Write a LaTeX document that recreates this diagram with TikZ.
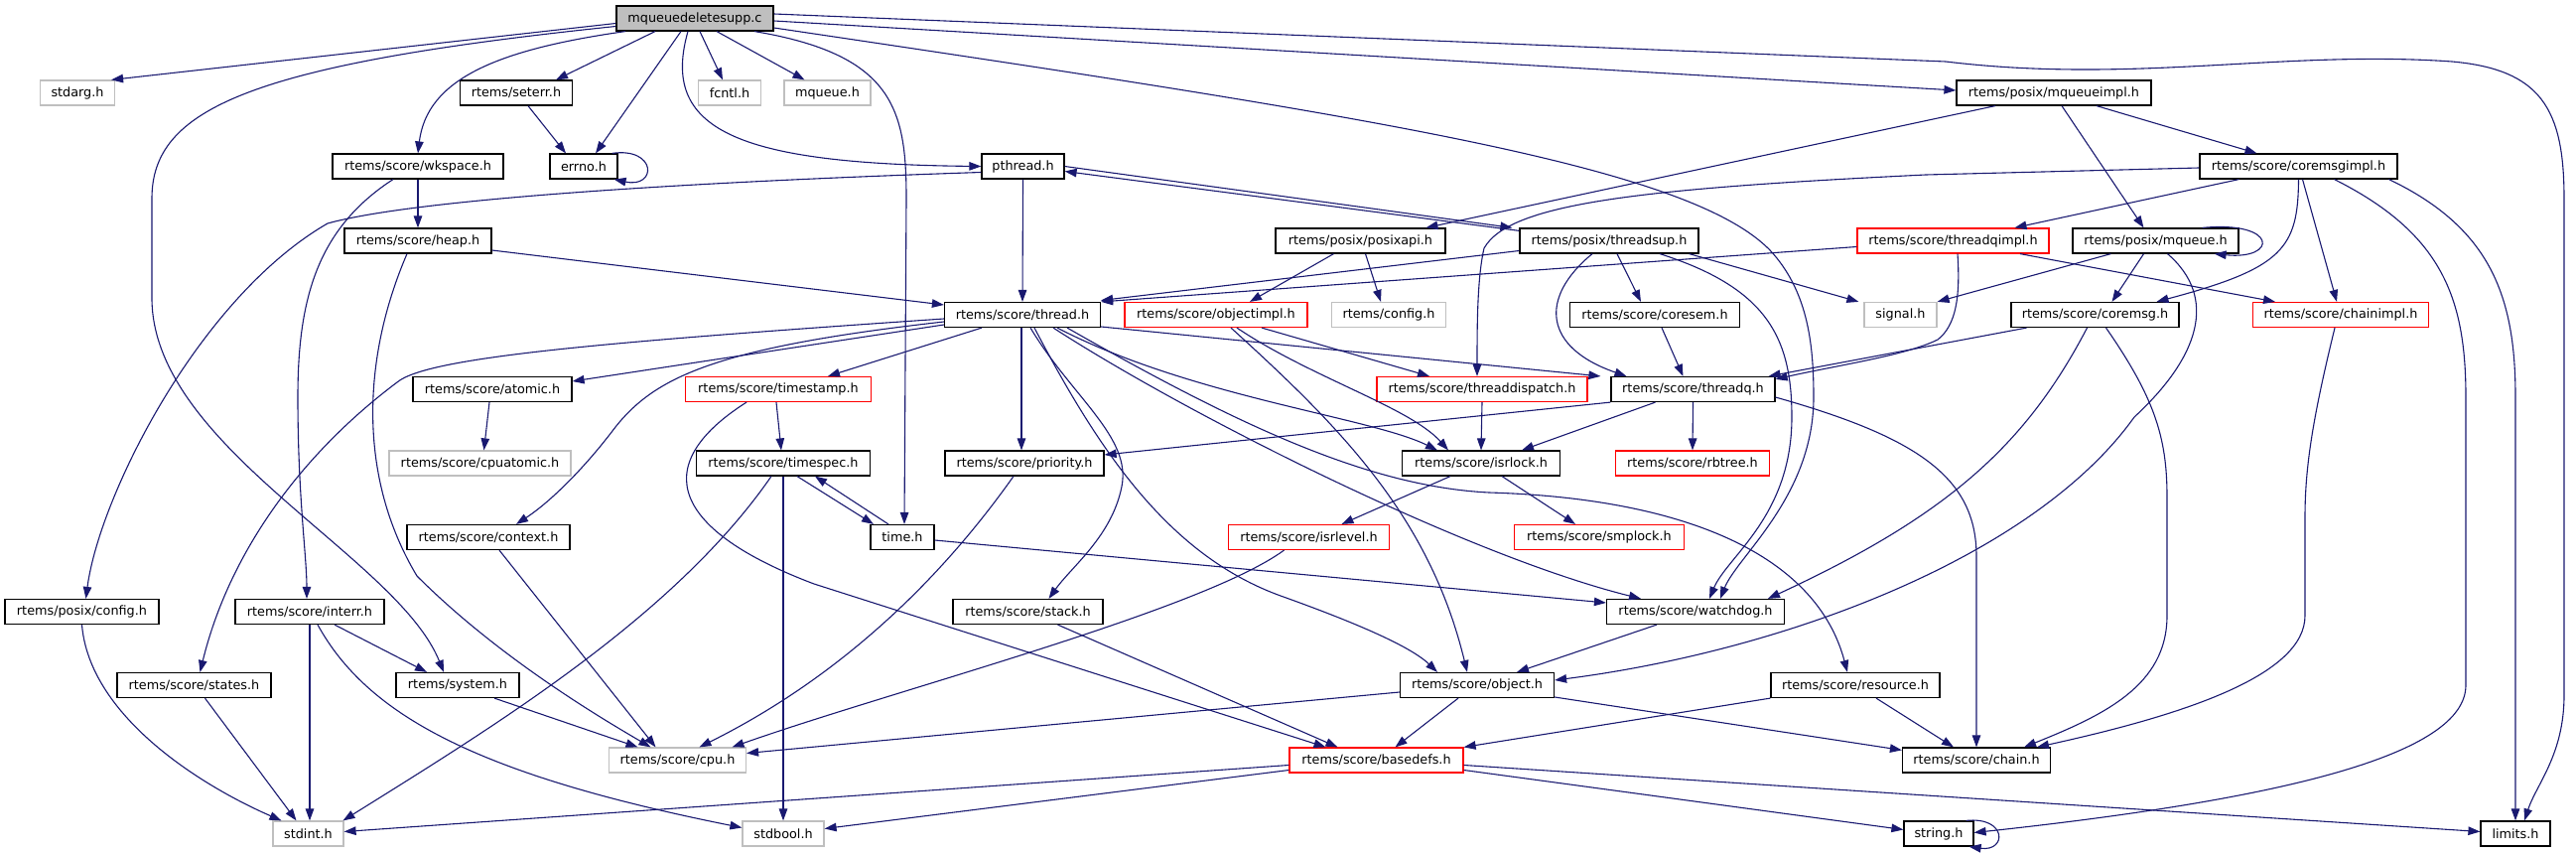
\documentclass[tikz,border=0pt]{standalone}
\usepackage{fontspec}
\setmainfont{DejaVu Sans}
\usetikzlibrary{arrows.meta}
\definecolor{edgecol}{HTML}{191970}
\definecolor{grayb}{HTML}{BFBFBF}
\definecolor{redb}{HTML}{FF0000}
\newcommand{\nfont}{\fontsize{12.8}{15}\selectfont}
\begin{document}
\begin{tikzpicture}[x=1pt,y=-1pt,
  box/.style={draw=black, line width=1.2pt, fill=white, minimum height=25pt, inner xsep=1pt, inner ysep=0pt, font=\nfont},
  rbox/.style={box, draw=redb},
  gbox/.style={box, draw=grayb},
  rootbox/.style={box, fill=grayb},
  dep/.style={draw=edgecol, line width=1.1pt, -{Triangle[length=12pt,width=8.5pt]}}]
\useasboundingbox (0,0) rectangle (2595,859);
% ---------- nodes ----------
\node[rootbox, minimum width=158pt] (root) at (700,18.5) {mqueuedeletesupp.c};
\node[gbox, minimum width=75pt] (stdarg) at (78,93.5) {stdarg.h};
\node[box, minimum width=113pt] (seterr) at (520,93.5) {rtems/seterr.h};
\node[gbox, minimum width=63pt] (fcntl) at (735,93.5) {fcntl.h};
\node[gbox, minimum width=87pt] (mqueue) at (833.5,93.5) {mqueue.h};
\node[box, minimum width=196pt] (mqueueimpl) at (2069,93.5) {rtems/posix/mqueueimpl.h};
\node[box, minimum width=172pt] (wkspace) at (421,167.5) {rtems/score/wkspace.h};
\node[box, minimum width=68pt] (errno) at (588,167.5) {errno.h};
\node[box, minimum width=83pt] (pthread) at (1030.5,167.5) {pthread.h};
\node[box, minimum width=199pt] (coremsgimpl) at (2315.5,167.5) {rtems/score/coremsgimpl.h};
\node[box, minimum width=148pt] (heap) at (421,242.5) {rtems/score/heap.h};
\node[box, minimum width=171pt] (posixapi) at (1370.5,242.5) {rtems/posix/posixapi.h};
\node[box, minimum width=180pt] (threadsup) at (1621,242.5) {rtems/posix/threadsup.h};
\node[rbox, minimum width=193pt] (threadqimpl) at (1967.5,242.5) {rtems/score/threadqimpl.h};
\node[box, minimum width=167pt] (pmqueue) at (2171.5,242.5) {rtems/posix/mqueue.h};
\node[box, minimum width=157pt] (thread) at (1030,317) {rtems/score/thread.h};
\node[rbox, minimum width=184pt] (objectimpl) at (1225,317) {rtems/score/objectimpl.h};
\node[gbox, minimum width=115pt] (config) at (1399,317) {rtems/config.h};
\node[box, minimum width=171pt] (coresem) at (1667,317) {rtems/score/coresem.h};
\node[gbox, minimum width=73pt] (signal) at (1914.5,317) {signal.h};
\node[box, minimum width=169pt] (coremsg) at (2110.5,317) {rtems/score/coremsg.h};
\node[rbox, minimum width=177pt] (chainimpl) at (2358,317) {rtems/score/chainimpl.h};
\node[box, minimum width=160pt] (atomic) at (496,392) {rtems/score/atomic.h};
\node[rbox, minimum width=187pt] (timestamp) at (784,392) {rtems/score/timestamp.h};
\node[rbox, minimum width=212pt] (threaddispatch) at (1493,392) {rtems/score/threaddispatch.h};
\node[box, minimum width=165pt] (threadq) at (1705.5,392) {rtems/score/threadq.h};
\node[gbox, minimum width=183pt] (cpuatomic) at (483.5,466.5) {rtems/score/cpuatomic.h};
\node[box, minimum width=175pt] (timespec) at (789,466.5) {rtems/score/timespec.h};
\node[box, minimum width=160pt] (priority) at (1032,466.5) {rtems/score/priority.h};
\node[box, minimum width=159pt] (isrlock) at (1492,466.5) {rtems/score/isrlock.h};
\node[rbox, minimum width=155pt] (rbtree) at (1705,466.5) {rtems/score/rbtree.h};
\node[box, minimum width=164pt] (context) at (492,541) {rtems/score/context.h};
\node[box, minimum width=64pt] (time) at (909,541) {time.h};
\node[rbox, minimum width=162pt] (isrlevel) at (1318.5,541) {rtems/score/isrlevel.h};
\node[rbox, minimum width=171pt] (smplock) at (1611,541) {rtems/score/smplock.h};
\node[box, minimum width=155pt] (pconfig) at (82.5,616) {rtems/posix/config.h};
\node[box, minimum width=150pt] (interr) at (312,616) {rtems/score/interr.h};
\node[box, minimum width=151pt] (stack) at (1035.5,616) {rtems/score/stack.h};
\node[box, minimum width=179pt] (watchdog) at (1708,616) {rtems/score/watchdog.h};
\node[box, minimum width=155pt] (states) at (195.5,690) {rtems/score/states.h};
\node[box, minimum width=124pt] (system) at (461,690) {rtems/system.h};
\node[box, minimum width=155pt] (object) at (1488,690) {rtems/score/object.h};
\node[box, minimum width=170pt] (resource) at (1869,690) {rtems/score/resource.h};
\node[gbox, minimum width=138pt] (cpu) at (682.5,765.5) {rtems/score/cpu.h};
\node[rbox, minimum width=175pt] (basedefs) at (1386.5,765.5) {rtems/score/basedefs.h};
\node[box, minimum width=149pt] (chain) at (1991,765.5) {rtems/score/chain.h};
\node[gbox, minimum width=71pt] (stdint) at (310.5,839.5) {stdint.h};
\node[gbox, minimum width=82pt] (stdbool) at (789,839.5) {stdbool.h};
\node[box, minimum width=70pt] (string) at (1953,839.5) {string.h};
\node[box, minimum width=70pt] (limits) at (2534,839.5) {limits.h};
% ---------- edges: root ----------
\draw[dep] ([yshift=-5pt]root.west) -- ([xshift=-4pt]stdarg.north east);
\draw[dep] ([yshift=-8pt]root.west) .. controls (250,65) and (153,110) .. (153,200) -- (153,300) .. controls (153,450) and (400,560) .. ([xshift=-14pt]system.north);
\draw[dep] ([xshift=-70pt]root.south) .. controls (500,50) and (430,80) .. (wkspace.north);
\draw[dep] ([xshift=-40pt]root.south) -- ([xshift=40pt]seterr.north);
\draw[dep] ([xshift=-14pt]root.south) -- ([xshift=12pt]errno.north);
\draw[dep] ([xshift=-7pt]root.south) .. controls (665,130) and (740,165) .. (pthread.west);
\draw[dep] ([xshift=5pt]root.south) -- ([xshift=-7pt]fcntl.north);
\draw[dep] ([xshift=22pt]root.south) -- ([xshift=-23pt]mqueue.north);
\draw[dep] ([xshift=60pt]root.south) .. controls (900,55) and (913,110) .. (913,200) -- ([xshift=2pt]time.north);
\draw[dep] ([yshift=-9.5pt]root.east) .. controls (1400,120) and (1720,170) .. (1790,260) .. controls (1822,300) and (1827,350) .. (1827,400) .. controls (1827,500) and (1750,560) .. ([xshift=25pt]watchdog.north);
\draw[dep] ([yshift=-2.5pt]root.east) -- ([yshift=2.5pt]mqueueimpl.west);
\draw[dep] ([yshift=4.5pt]root.east) -- (1960,62) .. controls (2150,85) and (2300,50) .. (2470,62) .. controls (2560,70) and (2583,110) .. (2583,200) -- (2583,700) .. controls (2583,760) and (2555,790) .. ([xshift=9pt]limits.north);
% ---------- seterr, errno, wkspace, heap ----------
\draw[dep] ([xshift=12pt]seterr.south) -- ([xshift=-18pt]errno.north);
\draw[dep] ([xshift=-6pt]errno.north east) .. controls (662,148) and (662,190) .. ([xshift=-4pt]errno.south east);
\draw[dep] (wkspace.south) -- (heap.north);
\draw[dep] ([xshift=-25pt]wkspace.south) .. controls (320,230) and (300,300) .. (300,400) .. controls (300,500) and (309,560) .. ([xshift=-3pt]interr.north);
\draw[dep] ([yshift=-9.5pt]heap.east) -- ([yshift=10pt]thread.west);
\draw[dep] ([xshift=-11pt]heap.south) .. controls (365,360) and (360,480) .. (420,580) .. controls (500,660) and (600,720) .. ([xshift=-27pt]cpu.north);
% ---------- pthread ----------
\draw[dep] (pthread.east) -- ([xshift=-7pt]threadsup.north west);
\draw[dep] ([yshift=-3pt]threadsup.north west) -- ([yshift=-5pt]pthread.east);
\draw[dep] (pthread.south) -- (thread.north);
\draw[dep] ([yshift=-6pt]pthread.west) .. controls (700,183) and (420,200) .. (330,225) .. controls (200,300) and (100,500) .. ([xshift=4pt]pconfig.north);
% ---------- threadsup ----------
\draw[dep] ([yshift=-10pt]threadsup.west) -- ([yshift=14.5pt]thread.east);
\draw[dep] ([xshift=-17pt]threadsup.south) .. controls (1550,300) and (1555,350) .. ([xshift=-67pt]threadq.north);
\draw[dep] ([xshift=8pt]threadsup.south) -- ([xshift=-14pt]coresem.north);
\draw[dep] ([xshift=51pt]threadsup.south) .. controls (1780,290) and (1805,340) .. (1805,420) .. controls (1805,520) and (1740,560) .. ([xshift=14pt]watchdog.north);
\draw[dep] ([xshift=-10pt]threadsup.south east) -- ([xshift=-5pt]signal.north west);
% ---------- posixapi, mqueueimpl ----------
\draw[dep] ([xshift=-27pt]posixapi.south) -- ([xshift=34pt]objectimpl.north);
\draw[dep] ([xshift=5pt]posixapi.south) -- ([xshift=-8pt]config.north);
\draw[dep] ([xshift=-59pt]mqueueimpl.south) -- ([xshift=66pt]posixapi.north);
\draw[dep] ([xshift=8pt]mqueueimpl.south) -- ([xshift=-12pt]pmqueue.north);
\draw[dep] ([xshift=43pt]mqueueimpl.south) -- ([xshift=-42pt]coremsgimpl.north);
% ---------- coremsgimpl ----------
\draw[dep] ([yshift=-1.5pt]coremsgimpl.west) -- (1940,176) .. controls (1650,190) and (1520,205) .. (1495,250) .. controls (1488,280) and (1488,330) .. ([xshift=-5pt]threaddispatch.north);
\draw[dep] ([xshift=-60pt]coremsgimpl.south) -- ([xshift=62pt]threadqimpl.north);
\draw[dep] (coremsgimpl.south) .. controls (2315,250) and (2300,270) .. ([xshift=62pt]coremsg.north);
\draw[dep] ([xshift=4pt]coremsgimpl.south) -- ([xshift=-4pt]chainimpl.north);
\draw[dep] ([xshift=36pt]coremsgimpl.south) .. controls (2460,235) and (2484,300) .. (2484,400) -- (2484,690) .. controls (2484,760) and (2300,805) .. ([yshift=1pt]string.east);
\draw[dep] ([xshift=91pt]coremsgimpl.south) .. controls (2510,230) and (2534,300) .. (2534,400) -- (limits.north);
% ---------- posix/mqueue ----------
\draw[dep] ([xshift=-37pt]pmqueue.north east) .. controls (2295,222) and (2295,262) .. ([xshift=-25pt]pmqueue.south east);
\draw[dep] ([xshift=-45pt]pmqueue.south) -- (signal.north east);
\draw[dep] ([xshift=-12pt]pmqueue.south) -- ([xshift=17pt]coremsg.north);
\draw[dep] ([xshift=12pt]pmqueue.south) .. controls (2235,300) and (2215,360) .. (2150,420) .. controls (2050,560) and (1800,655) .. ([yshift=5pt]object.east);
% ---------- threadqimpl ----------
\draw[dep] ([yshift=-6pt]threadqimpl.west) -- (thread.north east);
\draw[dep] ([xshift=4.5pt]threadqimpl.south) .. controls (1975,300) and (1970,328) .. (1952,342) .. controls (1920,358) and (1850,368) .. ([yshift=-3pt]threadq.north east);
\draw[dep] ([xshift=67.5pt]threadqimpl.south) -- ([xshift=-66pt]chainimpl.north);
% ---------- coremsg, chainimpl, coresem ----------
\draw[dep] ([xshift=-69pt]coremsg.south) -- ([xshift=-7pt]threadq.north east);
\draw[dep] ([xshift=-8pt]coremsg.south) .. controls (2040,450) and (1960,520) .. ([xshift=73pt]watchdog.north);
\draw[dep] ([xshift=11pt]coremsg.south) .. controls (2170,400) and (2183,440) .. (2183,500) -- (2183,620) .. controls (2183,690) and (2120,720) .. ([xshift=48pt]chain.north);
\draw[dep] ([xshift=-6pt]chainimpl.south) .. controls (2330,420) and (2322,470) .. (2322,520) -- (2322,620) .. controls (2322,680) and (2200,720) .. ([xshift=61pt]chain.north);
\draw[dep] ([xshift=7pt]coresem.south) -- ([xshift=-10pt]threadq.north);
% ---------- threadq, threaddispatch, isrlock, isrlevel ----------
\draw[dep] (threadq.south west) -- ([yshift=8.5pt]priority.east);
\draw[dep] ([xshift=-38pt]threadq.south) -- ([xshift=41pt]isrlock.north);
\draw[dep] (threadq.south) -- (rbtree.north);
\draw[dep] ([yshift=-8pt]threadq.east) .. controls (1930,440) and (1991,480) .. (1991,560) -- (chain.north);
\draw[dep] (threaddispatch.south) -- (isrlock.north);
\draw[dep] ([xshift=-31pt]isrlock.south) -- ([xshift=33pt]isrlevel.north);
\draw[dep] ([xshift=21pt]isrlock.south) -- ([xshift=-24pt]smplock.north);
\draw[dep] ([xshift=-25pt]isrlevel.south) .. controls (1210,615) and (900,695) .. ([xshift=55pt]cpu.north);
% ---------- atomic, timestamp, timespec, time, priority ----------
\draw[dep] ([xshift=-3pt]atomic.south) -- ([xshift=4pt]cpuatomic.north);
\draw[dep] ([xshift=-2pt]timestamp.south) -- ([xshift=-2pt]timespec.north);
\draw[dep] ([xshift=-32pt]timestamp.south) .. controls (650,470) and (680,535) .. (820,588) -- ([xshift=-51pt]basedefs.north);
\draw[dep] ([xshift=-12pt]timespec.south) .. controls (680,620) and (500,730) .. ([xshift=35pt]stdint.north);
\draw[dep] (timespec.south) -- (stdbool.north);
\draw[dep] ([xshift=14pt]timespec.south) -- ([xshift=-29pt]time.north);
\draw[dep] ([xshift=-14pt]time.north) -- ([xshift=32pt]timespec.south);
\draw[dep] ([yshift=-3pt]time.east) -- ([yshift=9pt]watchdog.west);
\draw[dep] ([xshift=-11pt]priority.south) .. controls (950,580) and (850,680) .. ([xshift=22pt]cpu.north);
% ---------- context, system, interr, pconfig, states ----------
\draw[dep] ([xshift=11pt]context.south) -- ([xshift=-22pt]cpu.north);
\draw[dep] ([xshift=37pt]system.south) -- ([xshift=-40pt]cpu.north);
\draw[dep] ([xshift=25pt]interr.south) -- ([xshift=-31pt]system.north);
\draw[dep] (interr.south) -- ([xshift=1.5pt]stdint.north);
\draw[dep] ([xshift=8pt]interr.south) .. controls (370,720) and (480,780) .. ([yshift=6pt]stdbool.west);
\draw[dep] (pconfig.south) .. controls (90,720) and (200,790) .. ([xshift=-27pt]stdint.north);
\draw[dep] ([xshift=11pt]states.south) -- ([xshift=-12pt]stdint.north);
% ---------- basedefs, stack, object, resource, watchdog ----------
\draw[dep] ([yshift=-5pt]basedefs.west) -- ([yshift=2pt]stdint.east);
\draw[dep] ([yshift=-10pt]basedefs.west) -- ([yshift=5pt]stdbool.east);
\draw[dep] ([yshift=-10pt]basedefs.east) -- ([yshift=4pt]string.west);
\draw[dep] ([yshift=-5pt]basedefs.east) -- ([yshift=2pt]limits.west);
\draw[dep] ([xshift=-8pt]string.north east) .. controls (2022,822) and (2022,858) .. ([xshift=-5pt]string.south east);
\draw[dep] ([xshift=30pt]stack.south) -- ([xshift=-39pt]basedefs.north);
\draw[dep] ([xshift=-19pt]object.south) -- ([xshift=19pt]basedefs.north);
\draw[dep] ([yshift=-12pt]object.east) -- ([yshift=-3pt]chain.north west);
\draw[dep] ([yshift=-7pt]object.west) -- ([yshift=7pt]cpu.east);
\draw[dep] (resource.south west) -- (basedefs.north east);
\draw[dep] ([xshift=21pt]resource.south) -- ([xshift=-23pt]chain.north);
\draw[dep] ([xshift=-39pt]watchdog.south) -- ([xshift=40pt]object.north);
% ---------- objectimpl ----------
\draw[dep] ([xshift=46pt]objectimpl.south) -- ([xshift=-53pt]threaddispatch.north);
\draw[dep] ([xshift=21pt]objectimpl.south) .. controls (1320,380) and (1420,410) .. ([xshift=-33pt]isrlock.north);
\draw[dep] ([xshift=15pt]objectimpl.south) .. controls (1350,430) and (1440,520) .. ([xshift=-10pt]object.north);
% ---------- thread ----------
\draw[dep] ([yshift=-4pt]thread.west) .. controls (600,345) and (430,360) .. (400,385) .. controls (300,460) and (230,560) .. ([xshift=6pt]states.north);
\draw[dep] ([yshift=-10pt]thread.west) -- ([yshift=8pt]atomic.east);
\draw[dep] ([yshift=-7pt]thread.west) .. controls (720,350) and (660,380) .. (620,430) .. controls (590,470) and (555,505) .. ([xshift=28pt]context.north);
\draw[dep] ([xshift=-41pt]thread.south) -- ([xshift=50pt]timestamp.north);
\draw[dep] ([xshift=-1pt]thread.south) -- ([xshift=-3pt]priority.north);
\draw[dep] ([xshift=8pt]thread.south) .. controls (1080,400) and (1140,440) .. (1130,490) .. controls (1120,540) and (1080,570) .. ([xshift=21pt]stack.north);
\draw[dep] ([xshift=12pt]thread.south) .. controls (1110,460) and (1180,560) .. (1290,600) .. controls (1360,625) and (1420,650) .. ([xshift=-40pt]object.north);
\draw[dep] ([xshift=35pt]thread.south) .. controls (1200,400) and (1380,420) .. ([xshift=-44pt]isrlock.north);
\draw[dep] ([yshift=-12pt]thread.east) -- ([xshift=-10pt]threadq.north west);
\draw[dep] ([xshift=31pt]thread.south) .. controls (1200,420) and (1480,560) .. ([xshift=-55pt]watchdog.north);
\draw[dep] ([xshift=45pt]thread.south) .. controls (1250,430) and (1380,490) .. (1500,496) .. controls (1700,502) and (1830,560) .. ([xshift=-8pt]resource.north);
\end{tikzpicture}
\end{document}
